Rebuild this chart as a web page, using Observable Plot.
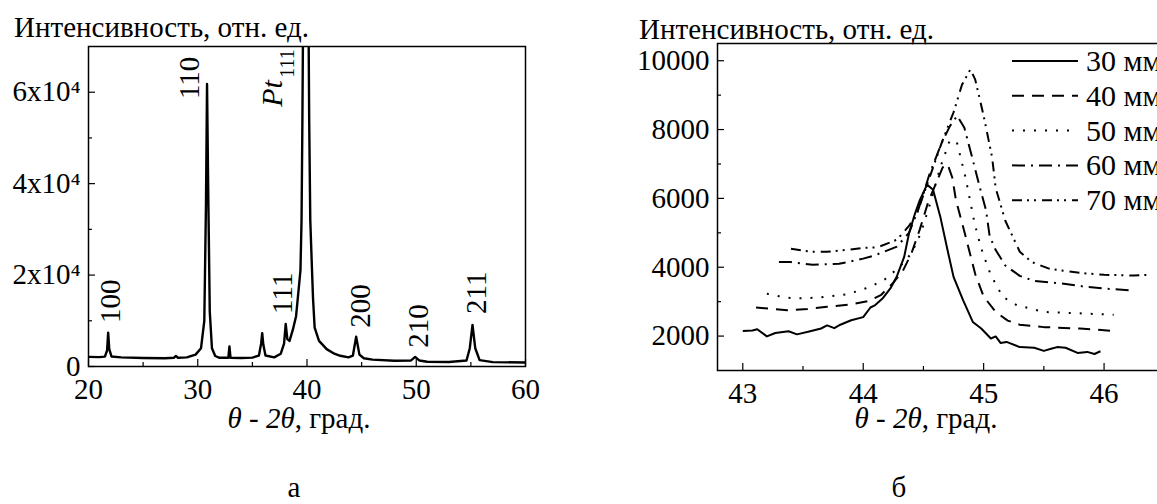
<!DOCTYPE html>
<html><head><meta charset="utf-8">
<script src="https://cdn.jsdelivr.net/npm/d3@7"></script>
<script src="https://cdn.jsdelivr.net/npm/@observablehq/plot@0.6"></script>
<style>
html,body{margin:0;padding:0;background:#fff;overflow:hidden;}
#wrap{position:relative;width:1157px;height:504px;overflow:hidden;font-family:'Liberation Serif';}
#wrap svg{position:absolute;top:0;}
</style></head><body><div id="wrap"></div>
<script>
// ---------- Panel a: XRD pattern ----------
const patternX = [20.0,21.0,21.5,21.7,21.8,21.9,22.1,23.0,25.0,27.0,27.8,28.0,28.2,29.0,29.8,30.3,30.6,30.75,30.85,30.95,31.1,31.3,31.6,32.0,32.8,32.9,33.0,34.0,35.0,35.6,35.8,35.9,36.0,36.2,37.0,37.6,37.9,38.05,38.2,38.4,38.7,39.0,39.2,39.4,39.5,39.58,39.63,39.9,40.15,40.2,40.3,40.46,40.55,40.7,41.1,41.8,42.5,43.05,43.8,44.2,44.5,44.8,45.2,46.0,48.0,49.5,49.9,50.3,51.0,53.0,54.6,54.9,55.15,55.4,55.8,57.0,60.0];
const patternY = [2100,2050,2150,3500,7400,3800,2200,2000,1850,1800,1900,2300,1900,2000,2600,4000,10000,35000,61800,40000,12000,4000,2300,1900,1900,4400,1900,1850,1950,2400,5000,7300,4800,2400,2000,2800,5000,9300,6000,5600,8000,11000,16000,21000,32000,54000,72000,200000,72000,54000,32000,21000,15000,8500,5600,3800,2800,2340,2000,2400,6500,2600,1800,1500,1250,1300,2100,1300,1050,1000,1300,4000,9100,4000,1400,950,880];
const peakLabels = ["100","110","111","200","210","211"];
const peakLabelX = [22.0,29.25,37.75,44.9,50.2,55.5];
const peakLabelY = [9500,58500,11500,8500,4100,11500];
const ptLabel = "Pt", ptSub = "111";
const ptLabelX = 36.83, ptSubX = 38.2, ptLabelY = 56800, ptSubY = 63150;
const aXTicks = [20,30,40,50,60], aXMinor = [25,35,45,55];
const aYTicks = [0,20000,40000,60000], aYMinor = [10000,30000,50000];
const aYTickLabels = ["0","2x10⁴","4x10⁴","6x10⁴"];

// ---------- Panel б ----------
const seriesNames = ["30 мм","40 мм","50 мм","60 мм","70 мм"];
const x30 = [43.00,43.08,43.12,43.20,43.27,43.38,43.45,43.56,43.65,43.70,43.76,43.81,43.90,44.00,44.06,44.10,44.16,44.23,44.28,44.34,44.38,44.43,44.47,44.53,44.58,44.64,44.70,44.75,44.83,44.91,44.98,45.06,45.10,45.14,45.19,45.30,45.42,45.50,45.56,45.61,45.68,45.78,45.86,45.92,45.97];
const y30 = [2150,2160,2200,1990,2090,2140,2050,2140,2220,2310,2230,2330,2460,2550,2830,2900,3090,3410,3740,4300,4980,5560,5950,6400,6250,5470,4500,3720,3040,2410,2220,1930,1990,1800,1830,1680,1660,1570,1630,1680,1660,1510,1540,1480,1560];
const x40 = [43.11,43.25,43.37,43.54,43.70,43.90,44.05,44.15,44.25,44.33,44.40,44.47,44.54,44.60,44.66,44.70,44.74,44.77,44.85,44.93,45.00,45.10,45.20,45.30,45.50,45.80,46.07];
const y40 = [2830,2790,2750,2790,2850,2920,3020,3200,3550,3900,4400,5100,5900,6400,6900,7000,6600,5950,4900,3800,3150,2700,2450,2330,2260,2220,2150];
const x50 = [43.20,43.30,43.41,43.52,43.63,43.74,43.85,43.96,44.07,44.18,44.30,44.40,44.48,44.56,44.64,44.72,44.78,44.85,44.92,44.95,44.98,45.02,45.06,45.16,45.28,45.39,45.50,45.80,46.08];
const y50 = [3230,3160,3100,3100,3120,3160,3210,3310,3450,3650,4000,4400,5000,5900,6900,7700,7600,6600,5360,4930,4550,4150,3770,3135,2890,2800,2700,2660,2620];
const x60 = [43.30,43.40,43.58,43.80,44.00,44.10,44.28,44.38,44.46,44.55,44.65,44.72,44.78,44.84,44.90,44.97,45.02,45.05,45.10,45.18,45.30,45.42,45.65,45.85,46.00,46.25];
const y60 = [4150,4150,4070,4100,4250,4350,4600,5000,5700,6700,7600,8100,8400,8050,7250,6300,5650,4900,4500,4050,3750,3600,3530,3430,3380,3320];
const x70 = [43.40,43.50,43.58,43.70,43.85,44.00,44.12,44.28,44.38,44.45,44.55,44.65,44.75,44.82,44.89,44.93,45.00,45.07,45.10,45.18,45.24,45.30,45.40,45.55,45.70,45.85,46.00,46.12,46.25,46.37];
const y70 = [4540,4480,4450,4450,4500,4560,4580,4800,5200,5600,6600,7600,8500,9300,9750,9450,8400,7200,6300,5350,4900,4450,4150,3950,3880,3820,3780,3770,3760,3780];
const bXTicks = [43,44,45,46], bXMinor = [43.5,44.5,45.5,46.5];
const bYTicks = [2000,4000,6000,8000,10000], bYMinor = [3000,5000,7000,9000];

// ---------- styles ----------
const FONT = "Liberation Serif";
const FS = 29;
const dashes = ["none","12,8","2,9","13,6,2,6","10,5,2,5,2,6"];

const wrap = document.getElementById("wrap");

// Panel a
const pattern = patternX.map((x,i)=>({x, y: patternY[i]}));
const labels = peakLabels.map((t,i)=>({t, x: peakLabelX[i], y: peakLabelY[i]}));
const aW = 560, aH = 420, aML = 88, aMR = 35, aMT = 46, aMB = 54;
const aInnerW = aW-aML-aMR, aInnerH = aH-aMT-aMB;
const plotA = Plot.plot({
  width: aW, height: aH, marginLeft: aML, marginRight: aMR, marginTop: aMT, marginBottom: aMB,
  x: {domain: [20,60]}, y: {domain: [0,70000]},
  style: {fontFamily: FONT, fontSize: FS+"px", color: "#000", background: "transparent", overflow: "visible"},
  marks: [
    Plot.line(pattern, {x:"x", y:"y", stroke:"#000", strokeWidth:2.4, clip:true, curve:"linear"}),
    Plot.tickX(aXTicks, {x: d=>d, insetTop: aInnerH-7, stroke:"#000", strokeWidth:1.2}),
    Plot.tickX(aXMinor, {x: d=>d, insetTop: aInnerH-4, stroke:"#000", strokeWidth:1.2}),
    Plot.tickY(aYTicks, {y: d=>d, insetRight: aInnerW-7, stroke:"#000", strokeWidth:1.2}),
    Plot.tickY(aYMinor, {y: d=>d, insetRight: aInnerW-4, stroke:"#000", strokeWidth:1.2}),
    Plot.axisX({ticks: aXTicks, tickSize: 0, tickPadding: 12, label: null, tickFormat: d => String(d)}),
    Plot.axisY({ticks: aYTicks, tickSize: 0, tickPadding: 8, label: null,
      tickFormat: d => aYTickLabels[aYTicks.indexOf(d)]}),
    Plot.text(labels, {x:"x", y:"y", text:"t", rotate:-90, textAnchor:"start", lineAnchor:"middle", fill:"#000"}),
    Plot.text([{t: ptLabel}], {x: ()=>ptLabelX, y: ()=>ptLabelY, text:"t", rotate:-90, textAnchor:"start", lineAnchor:"middle", fontSize:30, fontStyle:"italic", fill:"#000"}),
    Plot.text([{t: ptSub}], {x: ()=>ptSubX, y: ()=>ptSubY, text:"t", rotate:-90, textAnchor:"start", lineAnchor:"middle", fontSize:20, fill:"#000"}),
    Plot.frame({stroke:"#000", strokeWidth:1.5})
  ]
});
plotA.style.left = "0px";
wrap.appendChild(plotA);

// Panel б
const xs = [x30,x40,x50,x60,x70], ys = [y30,y40,y50,y60,y70];
const bW = 660, bH = 420, bML = 127, bMT = 43, bMB = 50, bInnerW = 507;
const bMR = bW - bML - bInnerW, bInnerH = bH - bMT - bMB;
const lineMarks = seriesNames.map((name,k) => {
  const data = xs[k].map((x,i)=>({x, y: ys[k][i], s: name}));
  return Plot.line(data, {x:"x", y:"y", stroke:"#000", strokeWidth:2, strokeDasharray: dashes[k] === "none" ? null : dashes[k], strokeLinecap:"butt"});
});
const plotB = Plot.plot({
  width: bW, height: bH, marginLeft: bML, marginRight: bMR, marginTop: bMT, marginBottom: bMB,
  x: {domain: [42.79,47]}, y: {domain: [1000,10500]},
  style: {fontFamily: FONT, fontSize: FS+"px", color: "#000", background: "transparent", overflow: "visible"},
  marks: [
    ...lineMarks,
    Plot.tickX(bXTicks, {x: d=>d, insetTop: bInnerH-7, stroke:"#000", strokeWidth:1.2}),
    Plot.tickX(bXMinor, {x: d=>d, insetTop: bInnerH-4, stroke:"#000", strokeWidth:1.2}),
    Plot.tickY(bYTicks, {y: d=>d, insetRight: bInnerW-7, stroke:"#000", strokeWidth:1.2}),
    Plot.tickY(bYMinor, {y: d=>d, insetRight: bInnerW-4, stroke:"#000", strokeWidth:1.2}),
    Plot.axisX({ticks: bXTicks, tickSize: 0, tickPadding: 12, label: null, tickFormat: d => String(d)}),
    Plot.axisY({ticks: bYTicks, tickSize: 0, tickPadding: 8, label: null, tickFormat: d => String(d)}),
    Plot.frame({stroke:"#000", strokeWidth:1.5})
  ]
});
plotB.style.left = "590px";
wrap.appendChild(plotB);

// Overlay: titles, axis titles, panel letters, legend
const ov = d3.select(wrap).append("svg")
  .attr("width", 1157).attr("height", 504)
  .style("left","0px").style("pointer-events","none")
  .attr("font-family", FONT).attr("fill", "#000");
const yTitle = "Интенсивность, отн. ед.";
ov.append("text").attr("x", 14).attr("y", 37).attr("font-family", FONT).attr("font-size", FS).text(yTitle);
ov.append("text").attr("x", 639).attr("y", 39).attr("font-family", FONT).attr("font-size", FS).text(yTitle);
function xTitle(cx) {
  const t = ov.append("text").attr("x", cx).attr("y", 428).attr("font-family", FONT).attr("font-size", FS).attr("text-anchor","middle");
  t.append("tspan").attr("font-style","italic").text("θ");
  t.append("tspan").text(" - ");
  t.append("tspan").attr("font-style","italic").text("2θ");
  t.append("tspan").text(", град.");
}
xTitle(299); xTitle(926);
ov.append("text").attr("x", 294).attr("y", 497).attr("font-family", FONT).attr("font-size", FS).attr("text-anchor","middle").text("а");
ov.append("text").attr("x", 899).attr("y", 497).attr("font-family", FONT).attr("font-size", FS).attr("text-anchor","middle").text("б");

const legX1 = 1012, legX2 = 1078, legTx = 1086, legY0 = 61, legDy = 34.8;
seriesNames.forEach((name,k) => {
  const y = legY0 + k*legDy;
  const ln = ov.append("line").attr("x1", legX1).attr("x2", legX2).attr("y1", y).attr("y2", y)
    .attr("stroke","#000").attr("stroke-width", 2);
  if (dashes[k] !== "none") ln.attr("stroke-dasharray", dashes[k]);
  ov.append("text").attr("x", legTx).attr("y", y + 10).attr("font-family", FONT).attr("font-size", 30).text(name);
});
</script></body></html>
